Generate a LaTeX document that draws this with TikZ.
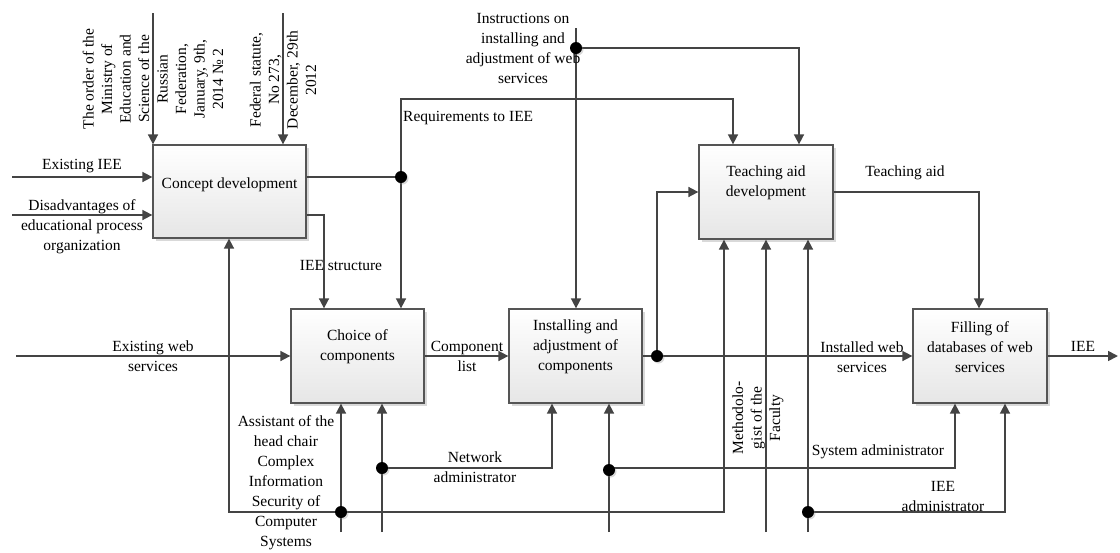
\documentclass[tikz,border=0pt]{standalone}
\usepackage{fontspec}
\setmainfont{Liberation Serif}
\usetikzlibrary{arrows.meta,shadows}
\definecolor{lncol}{HTML}{444444}
\definecolor{boxc}{HTML}{555555}
\definecolor{boxbot}{HTML}{E6E6E6}
\begin{document}
\begin{tikzpicture}[x=1pt,y=-1pt,
  font=\fontsize{15.5}{20}\selectfont,
  box/.style={draw=boxc, line width=1.3pt, minimum width=133pt, minimum height=94pt,
    top color=white, bottom color=boxbot,
    drop shadow={shadow xshift=2.5pt,shadow yshift=-2.5pt,opacity=0.3,fill=gray}, inner sep=0pt},
  wire/.style={draw=lncol, line width=1.7pt},
  arr/.style={wire, -{Triangle[length=10pt,width=10pt]}},
  dot/.style={circle, fill=black, minimum size=12pt, inner sep=0pt,
    drop shadow={shadow xshift=1.5pt,shadow yshift=-1.5pt,opacity=0.3,fill=gray}},
  lbl/.style={align=center, inner sep=0pt},
  rlbl/.style={align=center, inner sep=0pt, rotate=90, font=\fontsize{15.5}{18.5}\selectfont}
]
\useasboundingbox (0,0) rectangle (1120,552);

% boxes
\node[box, minimum width=153pt, minimum height=93pt] (A) at (229.5,191.5) {};
\node[box] (B) at (357.5,356) {};
\node[box] (C) at (575.5,356) {};
\node[box, minimum width=134pt] (D) at (766,192) {};
\node[box, minimum width=134pt] (E) at (980,356) {};

% free ends
\coordinate (c1) at (153,13);
\coordinate (c2) at (283,13);
\coordinate (i1) at (12,177);
\coordinate (i2) at (12,215);
\coordinate (i3) at (16,356);
\coordinate (o1) at (1118,356);
\coordinate (ins) at (576,28);
\coordinate (m1) at (341,532);
\coordinate (m2) at (382,532);
\coordinate (m3) at (609,532);
\coordinate (m4) at (766,532);
\coordinate (m5) at (808,532);

% dots (positions)
\coordinate (p1) at (401,177);
\coordinate (p2) at (657,356);
\coordinate (p3) at (576,48);
\coordinate (p4) at (341,512);
\coordinate (p5) at (382,468);
\coordinate (p6) at (609,470);
\coordinate (p7) at (808,512);

% controls of A
\draw[arr] (c1) -- (c1 |- A.north);
\draw[arr] (c2) -- (c2 |- A.north);
% inputs of A
\draw[arr] (i1) -- (i1 -| A.west);
\draw[arr] (i2) -- (i2 -| A.west);
% outputs of A
\draw[wire] (p1 -| A.east) -- (p1);
\draw[arr] (p1) -- (401,99) -- (733,99) -- (733,0 |- D.north);
\draw[arr] (p1) -- (p1 |- B.north);
\draw[arr] (A.east |- 0,215) -- (324,215) -- (324,0 |- B.north);
% B
\draw[arr] (i3) -- (B.west);
\draw[arr] (B.east) -- (C.west);
% C
\draw[arr] (C.east) -- (E.west);
\draw[arr] (p2) -- (657,192) -- (D.west);
% instructions
\draw[arr] (ins) -- (ins |- C.north);
\draw[arr] (p3) -- (799,48) -- (799,0 |- D.north);
% D output
\draw[arr] (D.east) -- (979,192) -- (979,0 |- E.north);
% E output
\draw[arr] (E.east) -- (o1);
% mechanisms
\draw[arr] (m1) -- (m1 |- B.south);
\draw[arr] (p4) -- (229,512) -- (229,0 |- A.south);
\draw[arr] (p4) -- (724,512) -- (724,0 |- D.south);
\draw[arr] (m2) -- (m2 |- B.south);
\draw[arr] (p5) -- (552,468) -- (552,0 |- C.south);
\draw[arr] (m3) -- (m3 |- C.south);
\draw[arr] (p6 |- 0,468) -- (955,468) -- (955,0 |- E.south);
\draw[arr] (m4) -- (m4 |- D.south);
\draw[arr] (m5) -- (m5 |- D.south);
\draw[arr] (p7) -- (1005,512) -- (1005,0 |- E.south);

% dots
\node[dot] (d1) at (p1) {};
\node[dot] (d2) at (p2) {};
\node[dot] (d3) at (p3) {};
\node[dot] (d4) at (p4) {};
\node[dot] (d5) at (p5) {};
\node[dot] (d6) at (p6) {};
\node[dot] (d7) at (p7) {};

% box texts
\node[lbl, yshift=6.5pt] (At) at (A) {Concept development};
\node[lbl, yshift=9pt] (Bt) at (B) {Choice of\\components};
\node[lbl, yshift=9pt] (Ct) at (C) {Installing and\\adjustment of\\components};
\node[lbl, yshift=9pt] (Dt) at (D) {Teaching aid\\development};
\node[lbl, yshift=9pt] (Et) at (E) {Filling of\\databases of web\\services};

% labels
\node[rlbl] (l1) at (153,79) {The order of the\\Ministry of\\Education and\\Science of the\\Russian\\Federation,\\January, 9th,\\2014 № 2};
\node[rlbl] (l2) at (283,80) {Federal statute,\\No 273,\\December, 29th\\2012};
\node[lbl] (l3) at (82,166) {Existing IEE};
\node[lbl] (l4) at (82,226.5) {Disadvantages of\\educational process\\organization};
\node[lbl, anchor=west] (l5) at (403,118) {Requirements to IEE};
\node[lbl] (l6) at (341,265) {IEE structure};
\node[lbl] (l7) at (153,356) {Existing web\\services};
\node[lbl] (l8) at (467,356) {Component\\list};
\node[lbl] (l9) at (862,357) {Installed web\\services};
\node[lbl] (l10) at (905,173) {Teaching aid};
\node[lbl] (l11) at (1083,346) {IEE};
\node[lbl] (l12) at (523,48) {Instructions on\\installing and\\adjustment of web\\services};
\node[lbl] (l13) at (286,483) {Assistant of the\\head chair\\Complex\\Information\\Security of\\Computer\\Systems};
\node[lbl] (l14) at (475,467.5) {Network\\administrator};
\node[lbl] (l15) at (878,452) {System administrator};
\node[lbl] (l16) at (943,496) {IEE\\administrator};
\node[rlbl] (l17) at (758,418) {Methodolo-\\gist of the\\Faculty};
\end{tikzpicture}
\end{document}
